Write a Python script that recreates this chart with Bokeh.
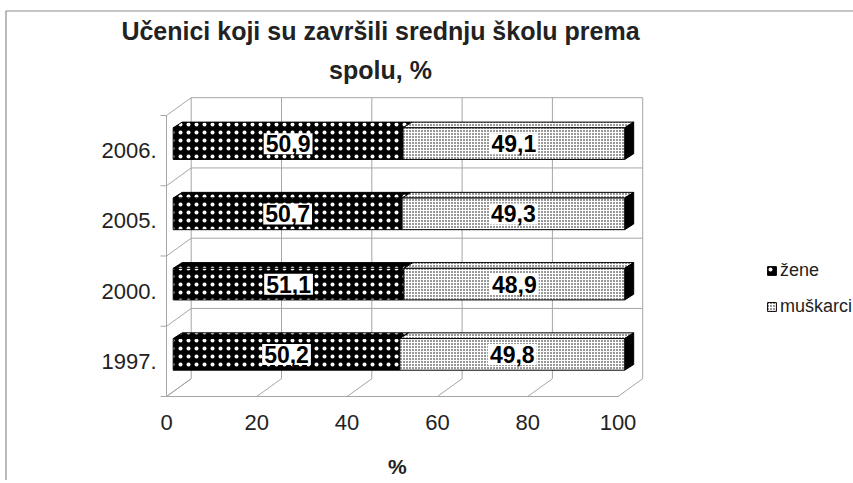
from bokeh.plotting import figure
from bokeh.models import Range1d, Label, Legend, LegendItem, ColumnDataSource
from bokeh.core.properties import value
from bokeh.embed import file_html
from bokeh.resources import INLINE

# ---------------- data ----------------
years = ["1997.", "2000.", "2005.", "2006."]
zene = [50.2, 51.1, 50.7, 50.9]
muskarci = [49.8, 48.9, 49.3, 49.1]
x_ticks = [0, 20, 40, 60, 80, 100]
series_names = ["žene", "muškarci"]
title_lines = ["Učenici koji su završili srednju školu prema", "spolu, %"]
x_axis_title = "%"

# ---------------- geometry (pixels) ----------------
W, H = 853, 480
X0_PX, SX = 166.0, 4.515        # canvas px of value 0, px per value unit
Y0_PX, SY = 396.0, 70.25        # canvas px (from top) of front floor, px per category

def ux(px):
    return px / SX

def uy(px):
    return px / SY

def cx(px):   # canvas x pixel -> data x
    return (px - X0_PX) / SX

def cy(px):   # canvas y pixel (from top) -> data y
    return (Y0_PX - px) / SY

WALL_DX, WALL_DY = ux(24.7), uy(17.8)     # depth of the walls
BAR_FX, BAR_FY = ux(6.7), uy(7.0)         # offset of bar front face
BAR_DX, BAR_DY = ux(9.0), uy(5.7)         # bar depth
BAR_H = 0.45                              # bar thickness (category units)

FONT = "Liberation Sans"
TXT = "#222222"
GRID = "#a6a6a6"

p = figure(width=W, height=H, output_backend="svg", toolbar_location=None,
           x_range=Range1d(cx(0), cx(W)), y_range=Range1d(cy(H), cy(0)),
           min_border=0, outline_line_color=None)
p.axis.visible = False
p.grid.visible = False
p.background_fill_color = "white"

n = len(years)
vmax = x_ticks[-1]

# ---------------- outer border ----------------
p.line([cx(5.5), cx(5.5), cx(W)], [cy(H), cy(10.5), cy(10.5)],
       line_color="#8c8c8c", line_width=1.2)

# ---------------- walls / floor ----------------
xs, ys = [], []
for t in x_ticks:
    xs.append([t + WALL_DX, t + WALL_DX]); ys.append([WALL_DY, n + WALL_DY])
for k in range(1, n + 1):
    xs.append([WALL_DX, vmax + WALL_DX]); ys.append([k + WALL_DY, k + WALL_DY])
xs.append([0, 0]); ys.append([0, n])
for k in range(0, n + 1):
    xs.append([0, WALL_DX]); ys.append([k, k + WALL_DY])
    xs.append([-ux(6), 0]); ys.append([k, k])
xs.append([0, vmax]); ys.append([0, 0])
for t in x_ticks:
    xs.append([t, t + WALL_DX]); ys.append([0, WALL_DY])
p.multi_line(xs, ys, line_color=GRID, line_width=1)

# ---------------- bars ----------------
def faces(starts, ends):
    fl, fr, fb, ft, tx, ty = [], [], [], [], [], []
    for i, (s, e) in enumerate(zip(starts, ends)):
        c = i + 0.5 + BAR_FY
        b, t = c - BAR_H / 2, c + BAR_H / 2
        fl.append(s + BAR_FX); fr.append(e + BAR_FX); fb.append(b); ft.append(t)
        tx.append([s + BAR_FX, e + BAR_FX, e + BAR_FX + BAR_DX, s + BAR_FX + BAR_DX])
        ty.append([t, t, t + BAR_DY, t + BAR_DY])
    return dict(left=fl, right=fr, bottom=fb, top=ft), tx, ty

z_start = [0] * n
z_end = list(zene)
m_start = list(zene)
m_end = [a + b for a, b in zip(zene, muskarci)]

z_front, z_tx, z_ty = faces(z_start, z_end)
m_front, m_tx, m_ty = faces(m_start, m_end)

z_style = dict(fill_color="black", hatch_pattern="dot", hatch_color="white",
               hatch_scale=8, hatch_weight=1.0, line_color="black", line_width=1)
m_style = dict(fill_color="white", hatch_pattern="dot", hatch_color="black",
               hatch_scale=3, hatch_weight=2.6, line_color="black", line_width=1)

p.patches(z_tx, z_ty, **z_style)
p.patches(m_tx, m_ty, **m_style)
rx, ry = [], []
for i, e in enumerate(m_end):
    c = i + 0.5 + BAR_FY
    b, t = c - BAR_H / 2, c + BAR_H / 2
    rx.append([e + BAR_FX, e + BAR_FX, e + BAR_FX + BAR_DX, e + BAR_FX + BAR_DX])
    ry.append([b, t, t + BAR_DY, b + BAR_DY])
p.patches(rx, ry, fill_color="black", line_color="black")

rz = p.quad(source=ColumnDataSource(z_front), **z_style)
rm = p.quad(source=ColumnDataSource(m_front), **m_style)

# ---------------- value labels ----------------
def fmt(v):
    return f"{v:.1f}".replace(".", ",")

lx, ly, lt = [], [], []
for i in range(n):
    for s, e, v in ((z_start[i], z_end[i], zene[i]), (m_start[i], m_end[i], muskarci[i])):
        lx.append((s + e) / 2 + BAR_FX); ly.append(i + 0.5 + BAR_FY); lt.append(fmt(v))
p.text(lx, ly, text=lt, text_align="center", text_baseline="middle",
       text_font=value(FONT), text_font_style="bold", text_font_size="23px",
       text_color="black", background_fill_color="white", padding=2)

# ---------------- axis labels ----------------
p.text(x_ticks, [-uy(26)] * len(x_ticks), text=[str(t) for t in x_ticks],
       text_align="center", text_baseline="middle", text_font=value(FONT),
       text_font_size="22px", text_color=TXT)
p.text([-ux(10)] * n, [i + 0.5 for i in range(n)], text=years,
       text_align="right", text_baseline="middle", text_font=value(FONT),
       text_font_size="22px", text_color=TXT)
p.text([vmax / 2 + ux(5)], [-uy(70)], text=[x_axis_title], text_align="center",
       text_baseline="middle", text_font=value(FONT), text_font_style="bold",
       text_font_size="21px", text_color=TXT)

# ---------------- title ----------------
for j, line in enumerate(title_lines):
    p.add_layout(Label(x=380, y=H - 30 - 39 * j, x_units="screen", y_units="screen",
                       text=line, text_align="center", text_baseline="alphabetic",
                       text_font=FONT, text_font_style="bold",
                       text_font_size="25px", text_color=TXT))

# ---------------- legend ----------------
legend = Legend(items=[LegendItem(label=series_names[0], renderers=[rz]),
                       LegendItem(label=series_names[1], renderers=[rm])],
                location=(766, H - 318), orientation="vertical",
                glyph_width=11, glyph_height=11, label_height=24,
                label_standoff=3, spacing=12, padding=0, margin=0,
                label_text_font=FONT, label_text_font_size="18px",
                label_text_color=TXT, border_line_color=None,
                background_fill_alpha=0)
p.add_layout(legend)

open("out.html", "w").write(file_html(p, INLINE))
